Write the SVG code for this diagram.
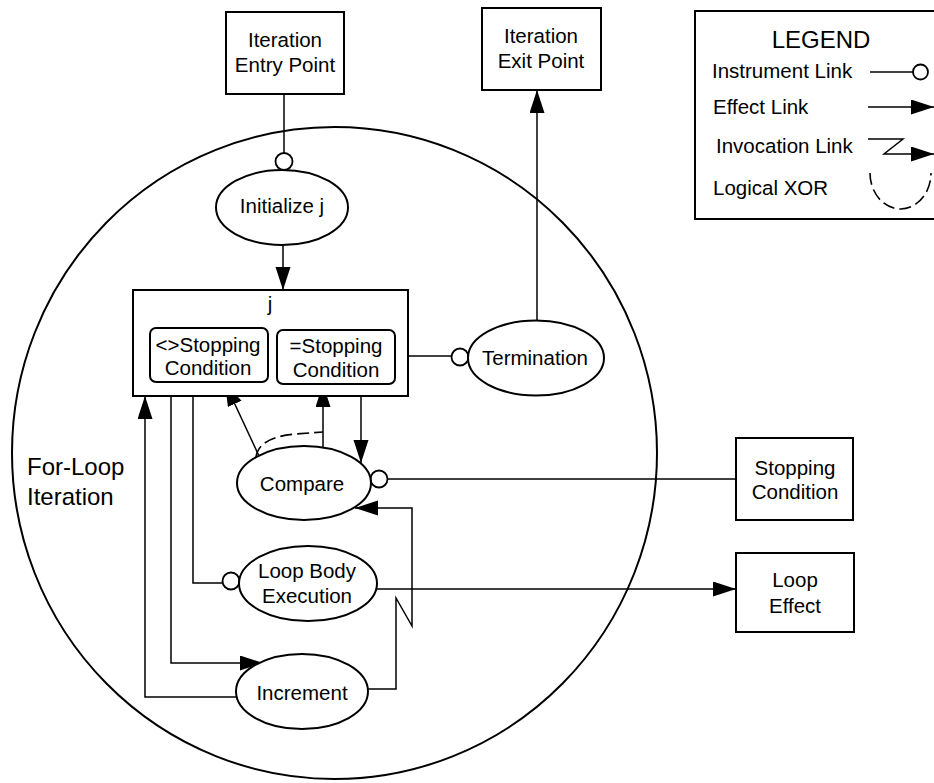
<svg xmlns="http://www.w3.org/2000/svg" width="934" height="783" viewBox="0 0 934 783">
  <style>
    text { font-family: "Liberation Sans", Arial, Helvetica, sans-serif; font-size: 20.5px; fill: #000; }
    .big { font-size: 24px; }
    .mid { text-anchor: middle; }
    .box { fill: #fff; stroke: #000; stroke-width: 2; }
    .proc { fill: #fff; stroke: #000; stroke-width: 2; }
    .line { fill: none; stroke: #000; stroke-width: 1.5; }
    .arrow { fill: none; stroke: #000; stroke-width: 1.5; marker-end: url(#head); }
    .inst { fill: #fff; stroke: #000; stroke-width: 1.8; }
    .xor { fill: none; stroke: #000; stroke-width: 1.6; stroke-dasharray: 12 5; }
  </style>
  <defs>
    <marker id="head" markerUnits="userSpaceOnUse" markerWidth="24" markerHeight="16" refX="23" refY="7.5" orient="auto">
      <path d="M0,0 L23,7.5 L0,15 z" fill="#000"/>
    </marker>
  </defs>

  <rect width="934" height="783" fill="#fff"/>

  <!-- system boundary -->
  <g id="for-loop-iteration">
    <ellipse cx="334.5" cy="453" rx="322.5" ry="326" fill="none" stroke="#000" stroke-width="2"/>
    <text class="big" x="27" y="475">For-Loop</text>
    <text class="big" x="27" y="505">Iteration</text>
  </g>

  <!-- connectors -->
  <g id="connectors">
    <!-- entry point instrument link to Initialize j -->
    <line class="line" x1="284" y1="94" x2="284" y2="153"/>
    <circle class="inst" cx="284" cy="161.5" r="8.5"/>
    <!-- Initialize j affects j -->
    <line class="arrow" x1="283" y1="245" x2="283" y2="290"/>
    <!-- Termination affects exit point -->
    <line class="arrow" x1="537" y1="321" x2="537" y2="90"/>
    <!-- =Stopping Condition instrument link to Termination -->
    <line class="line" x1="395" y1="356" x2="452" y2="356"/>
    <circle class="inst" cx="460" cy="357" r="8.5"/>
    <!-- Compare yields <>Stopping Condition -->
    <line class="arrow" x1="259" y1="456" x2="225" y2="383"/>
    <!-- Compare yields =Stopping Condition -->
    <line class="arrow" x1="323" y1="448" x2="323" y2="384"/>
    <!-- XOR between the two results -->
    <path class="xor" d="M256,457 Q259,437 296,434 L323,432"/>
    <!-- j consumed by Compare -->
    <line class="arrow" x1="361" y1="396" x2="361" y2="463"/>
    <!-- Stopping Condition instrument link to Compare -->
    <line class="line" x1="388" y1="479" x2="736" y2="479"/>
    <circle class="inst" cx="379" cy="479" r="8.5"/>
    <!-- <>Stopping Condition instrument link to Loop Body Execution -->
    <polyline class="line" points="193,382 193,583 222,583"/>
    <circle class="inst" cx="231" cy="581" r="8.5"/>
    <!-- Loop Body Execution affects Loop Effect -->
    <line class="arrow" x1="377" y1="589" x2="736" y2="589"/>
    <!-- j affected by Increment -->
    <polyline class="line" points="171,396 171,663 241,663"/>
    <line class="arrow" x1="240" y1="663" x2="263" y2="663"/>
    <polyline class="arrow" points="237,697 145,697 145,396"/>
    <!-- Increment invokes Compare -->
    <polyline class="arrow" points="368,689 396,689 396,598 412,626 412,508 355,508"/>
  </g>

  <!-- nodes -->
  <g id="entry-point">
    <rect class="box" x="226" y="12" width="118" height="82"/>
    <text class="mid" x="285" y="47">Iteration</text>
    <text class="mid" x="285" y="72">Entry Point</text>
  </g>

  <g id="exit-point">
    <rect class="box" x="482" y="8" width="119" height="82"/>
    <text class="mid" x="541" y="43">Iteration</text>
    <text class="mid" x="541" y="68">Exit Point</text>
  </g>

  <g id="initialize-j">
    <ellipse class="proc" cx="282" cy="207.5" rx="66" ry="37.5"/>
    <text class="mid" x="282" y="213">Initialize j</text>
  </g>

  <g id="j">
    <rect class="box" x="133" y="290" width="275" height="106"/>
    <text class="mid" x="270" y="311">j</text>
    <g id="not-stopping-condition">
      <rect class="box" x="150" y="328" width="118" height="54" rx="6" ry="6"/>
      <text class="mid" x="208" y="352">&lt;&gt;Stopping</text>
      <text class="mid" x="208" y="375">Condition</text>
    </g>
    <g id="eq-stopping-condition">
      <rect class="box" x="277" y="330" width="118" height="54" rx="6" ry="6"/>
      <text class="mid" x="336" y="353">=Stopping</text>
      <text class="mid" x="336" y="377">Condition</text>
    </g>
  </g>

  <g id="termination">
    <ellipse class="proc" cx="536" cy="358" rx="68" ry="37.5"/>
    <text class="mid" x="535" y="365">Termination</text>
  </g>

  <g id="compare">
    <ellipse class="proc" cx="304" cy="483" rx="67" ry="37"/>
    <text class="mid" x="302" y="491">Compare</text>
  </g>

  <g id="loop-body-execution">
    <ellipse class="proc" cx="308" cy="583.5" rx="69" ry="37.5"/>
    <text class="mid" x="307" y="578">Loop Body</text>
    <text class="mid" x="307" y="603">Execution</text>
  </g>

  <g id="increment">
    <ellipse class="proc" cx="302" cy="691.5" rx="66" ry="37.5"/>
    <text class="mid" x="302" y="700">Increment</text>
  </g>

  <g id="stopping-condition">
    <rect class="box" x="736" y="438" width="117" height="82"/>
    <text class="mid" x="795" y="475">Stopping</text>
    <text class="mid" x="795" y="499">Condition</text>
  </g>

  <g id="loop-effect">
    <rect class="box" x="736" y="553" width="118" height="79"/>
    <text class="mid" x="795" y="587">Loop</text>
    <text class="mid" x="795" y="613">Effect</text>
  </g>

  <!-- legend -->
  <g id="legend">
    <rect class="box" x="695" y="11" width="250" height="208"/>
    <text class="big mid" x="821" y="48">LEGEND</text>
    <text x="712" y="78">Instrument Link</text>
    <line class="line" x1="870" y1="72" x2="913" y2="72"/>
    <circle class="inst" cx="920.5" cy="72" r="7.5"/>
    <text x="713" y="114">Effect Link</text>
    <line class="arrow" x1="868" y1="107" x2="934" y2="107"/>
    <text x="716" y="153">Invocation Link</text>
    <polyline class="arrow" points="868,139 903,139 884,154 934,154"/>
    <text x="713" y="195">Logical XOR</text>
    <path class="xor" d="M870,173 A30.5 36 0 0 0 931,173"/>
  </g>
</svg>
